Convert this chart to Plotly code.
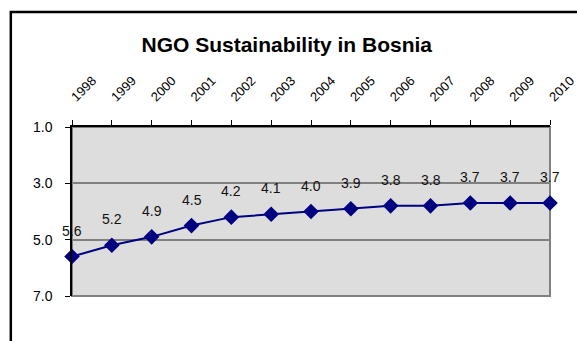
import plotly.graph_objects as go

# NGO sustainability index for Bosnia (lower = more sustainable)
years = [1998, 1999, 2000, 2001, 2002, 2003, 2004, 2005, 2006, 2007, 2008, 2009, 2010]
scores = [5.6, 5.2, 4.9, 4.5, 4.2, 4.1, 4.0, 3.9, 3.8, 3.8, 3.7, 3.7, 3.7]
y_ticks = [1.0, 3.0, 5.0, 7.0]

navy = "#000080"
font = "Arial, Liberation Sans, sans-serif"

fig = go.Figure()
fig.add_trace(go.Scatter(
    x=years, y=scores, mode="lines+markers",
    line=dict(color=navy, width=2),
    marker=dict(symbol="diamond", size=12, color=navy),
    cliponaxis=False, showlegend=False,
))

# value labels above each point
for x, v in zip(years, scores):
    fig.add_annotation(x=x, y=v, text=f"{v:.1f}", showarrow=False,
                       yshift=26, font=dict(family=font, size=14, color="#111"))

# plot-area frame on right and bottom
fig.add_shape(type="rect", xref="paper", yref="paper", x0=0, x1=1, y0=0, y1=1,
              line=dict(color="#808080", width=2), layer="below")
# outer chart border
fig.add_shape(type="rect", xref="paper", yref="paper",
              x0=-0.128, x1=1.3, y0=-0.5, y1=1.68,
              line=dict(color="black", width=2.5), layer="above")

fig.update_layout(
    width=577, height=341,
    margin=dict(l=72, r=27, t=127, b=45, autoexpand=False),
    paper_bgcolor="white", plot_bgcolor="#DDDDDD",
    title=dict(text="<b>NGO Sustainability in Bosnia</b>", xref="container", yref="container",
               x=0.497, y=1 - 45 / 341, xanchor="center", yanchor="middle",
               font=dict(family=font, size=21, color="black")),
    xaxis=dict(
        side="top", range=[1998, 2010], tickvals=years, ticktext=[str(y) for y in years],
        tickangle=-45, ticks="outside", ticklen=5, tickcolor="black",
        showline=True, linecolor="black", linewidth=1.5, showgrid=False, zeroline=False,
        tickfont=dict(family=font, size=13, color="black"), ticklabelstandoff=11,
        ticklabeloverflow="allow", automargin=False,
    ),
    yaxis=dict(
        range=[7, 1], tickvals=y_ticks, ticktext=[f"{t:.1f}" for t in y_ticks],
        ticks="outside", ticklen=5, tickcolor="black",
        showline=True, linecolor="black", linewidth=1.5,
        showgrid=True, gridcolor="#808080", gridwidth=1.5, zeroline=False,
        tickfont=dict(family=font, size=14, color="black"), ticklabelstandoff=10,
        automargin=False,
    ),
)

fig.write_html("out.html")
